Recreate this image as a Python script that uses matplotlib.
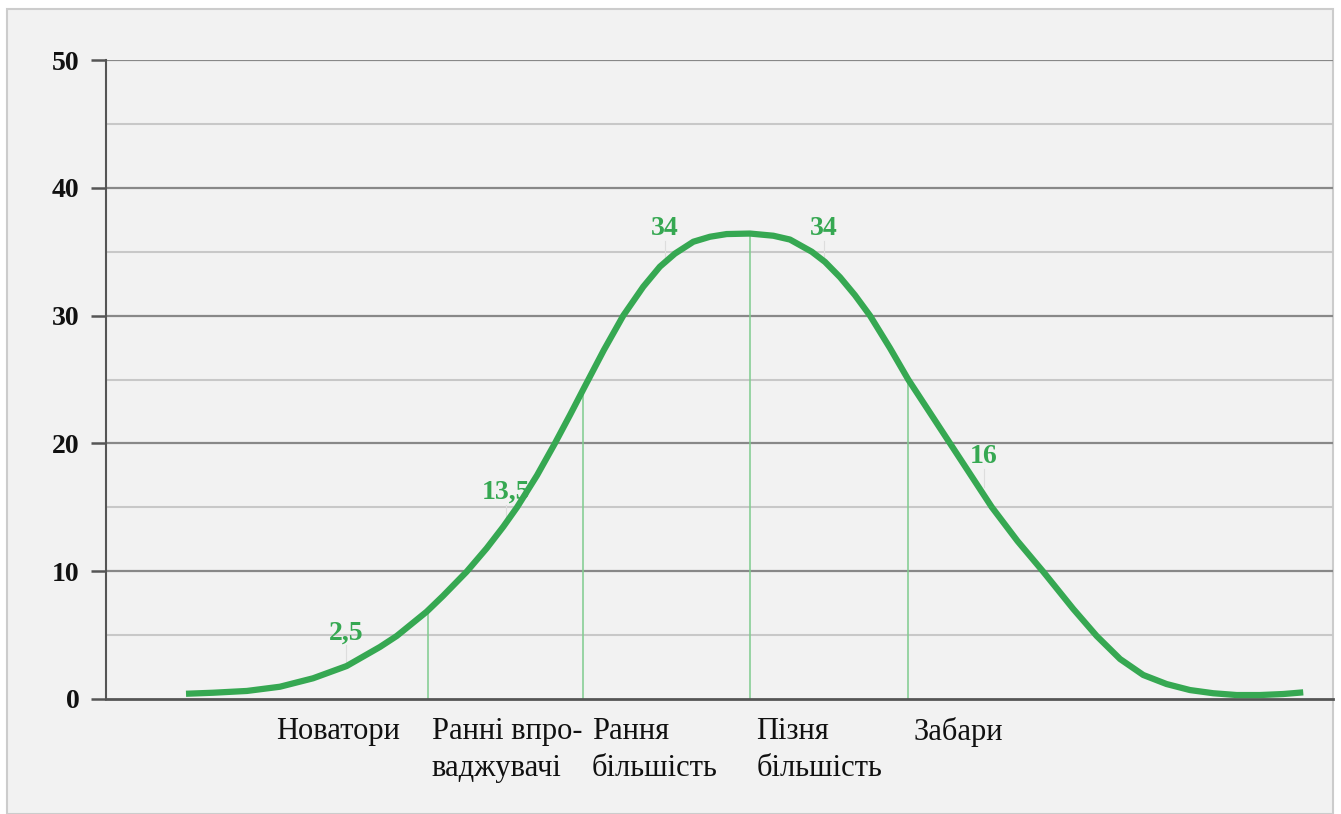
import matplotlib.pyplot as plt
from matplotlib.patches import Rectangle

# крива дифузії інновацій (x у сигмах, y у %)
curve_x = [-3.525, -3.356, -3.144, -2.938, -2.731, -2.521, -2.313, -2.208, -2.021, -1.919,
           -1.771, -1.646, -1.542, -1.456, -1.331, -1.219, -1.125, -1.031, -0.913, -0.792,
           -0.667, -0.563, -0.469, -0.354, -0.25, -0.146, 0.0,
           0.146, 0.25, 0.386, 0.469, 0.563, 0.656, 0.75, 0.875, 0.989, 1.25, 1.511, 1.672,
           1.833, 2.021, 2.167, 2.313, 2.458, 2.604, 2.75, 2.896, 3.042, 3.188, 3.333, 3.458]
curve_y = [0.41, 0.49, 0.63, 0.96, 1.62, 2.58, 4.07, 4.93, 6.83, 8.06,
           9.96, 11.79, 13.48, 15.0, 17.5, 20.01, 22.22, 24.49, 27.31, 30.0,
           32.26, 33.83, 34.85, 35.78, 36.17, 36.38, 36.42,
           36.25, 35.95, 35.0, 34.2, 33.0, 31.6, 30.0, 27.46, 25.0, 20.01, 15.02, 12.36,
           9.96, 7.04, 4.93, 3.13, 1.88, 1.17, 0.70, 0.45, 0.31, 0.31, 0.39, 0.52]

# межі груп
bound_x = [-2.01, -1.044, 0.0, 0.9875]
bound_y = [6.9, 24.3, 36.42, 25.0]

# відсотки над кривою
pct_labels = ["2,5", "13,5", "34", "34", "16"]
pct_x = [-2.525, -1.525, -0.53, 0.46, 1.46]
pct_y = [4.2, 15.2, 35.8, 35.8, 18.0]
pct_tip = [2.7, 14.0, 34.5, 34.5, 16.6]

groups = ["Новатори", "Ранні впро-\nваджувачі", "Рання\nбільшість", "Пізня\nбільшість", "Забари"]
groups_x = [-2.96, -1.99, -0.99, 0.04, 1.02]

green = "#36a852"
serif = ["Liberation Serif", "DejaVu Serif"]

fig = plt.figure(figsize=(13.41, 8.14), dpi=100)
fig.patch.set_facecolor("white")
fig.add_artist(Rectangle((7 / 1341, 0), 1326 / 1341, 805 / 814, transform=fig.transFigure,
                         facecolor="#f2f2f2", edgecolor="#cccccc", linewidth=1.5, zorder=-5))

ax = fig.add_axes([106 / 1341, 115 / 814, 1227 / 1341, 639 / 814])
ax.set_zorder(2)
ax.set_facecolor("none")
ax.set_xlim(-4.025, 3.644)
ax.set_ylim(0, 50)

for v in range(5, 50, 10):
    ax.axhline(v, color="#c8c8c8", lw=1.5, zorder=1)
for v in range(10, 51, 10):
    ax.axhline(v, color="#888888", lw=1.6, zorder=1)

for s in ["top", "right"]:
    ax.spines[s].set_visible(False)
ax.spines["left"].set_color("#555555")
ax.spines["left"].set_linewidth(1.5)
ax.spines["bottom"].set_color("#555555")
ax.spines["bottom"].set_linewidth(2)
ax.set_xticks([])
ax.set_yticks(range(0, 51, 10))
ax.tick_params(axis="y", length=11, width=1.8, color="#555555", pad=8)
for lab in ax.get_yticklabels():
    lab.set_fontfamily(serif)
    lab.set_fontweight("bold")
    lab.set_fontsize(20)
    lab.set_color("#111111")

ax.vlines(bound_x, 0, bound_y, color="#7fcc8e", lw=1.1, zorder=2)
ax.plot(curve_x, curve_y, color=green, lw=4.5, solid_capstyle="butt", solid_joinstyle="round", zorder=3)

for t, x, y, tip in zip(pct_labels, pct_x, pct_y, pct_tip):
    ax.plot([x, x], [tip, y], color="#dddddd", lw=0.8, zorder=2)
    ax.text(x, y, t, ha="center", va="bottom", color=green, fontsize=20,
            fontweight="bold", family=serif, zorder=4)

for t, x in zip(groups, groups_x):
    ax.text(x, -1.4, t, ha="left", va="top", fontsize=22, family=serif,
            color="#111111", linespacing=1.35, clip_on=False)

plt.savefig("out.png", dpi=100, facecolor=fig.get_facecolor())
